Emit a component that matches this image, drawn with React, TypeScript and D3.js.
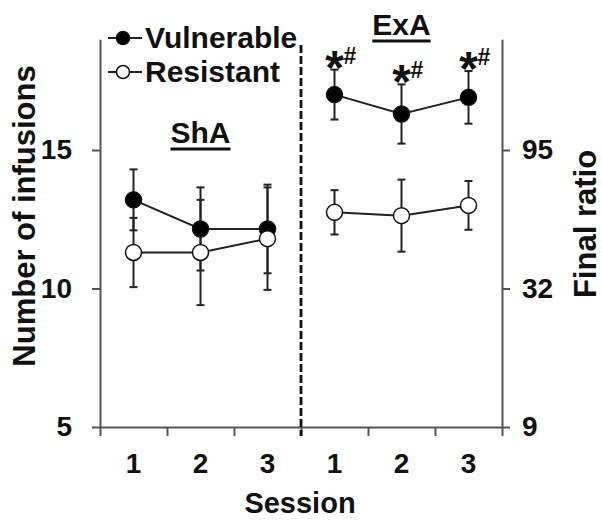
import React, { useEffect, useRef } from "react";
import * as d3 from "d3";

// sessions (x categories) and which phase each belongs to
const sessions = ["1", "2", "3", "1", "2", "3"];
const sessionPhase = ["ShA", "ShA", "ShA", "ExA", "ExA", "ExA"];
const phaseNames = ["ShA", "ExA"];

// number of infusions, mean and error
const vulnerableMean = [13.2, 12.15, 12.15, 17.0, 16.3, 16.9];
const vulnerableErr = [1.1, 1.5, 1.6, 0.9, 1.07, 0.95];
const resistantMean = [11.3, 11.3, 11.8, 12.75, 12.63, 13.0];
const resistantErr = [1.25, 1.9, 1.85, 0.8, 1.3, 0.88];

// significance marks above vulnerable points
const starMarks = ["", "", "", "*", "*", "*"];
const hashMarks = ["", "", "", "#", "#", "#"];

// axis ticks
const leftTicks = [5, 10, 15];
const rightTickLabels = ["9", "32", "95"];

const FONT = "'Liberation Sans', Arial, Helvetica, sans-serif";
const AXIS = "#555";
const INK = "#222";

export default function App() {
  const ref = useRef<SVGSVGElement>(null);

  useEffect(() => {
    const svg = d3.select(ref.current);
    svg.selectAll("*").remove();

    const x = d3.scaleBand<number>().domain(d3.range(sessions.length)).range([100, 502]);
    const xEdge = d3.scaleLinear().domain([0, sessions.length]).range([100, 502]);
    const y = d3.scaleLinear().domain([5, 19]).range([427, 39.2]);
    const cx = (i: number) => (x(i) as number) + x.bandwidth() / 2;

    const styleAxis = (g: any, size: number) => {
      g.attr("font-family", FONT).attr("font-size", size).attr("font-weight", "bold");
      g.select(".domain").attr("stroke", AXIS).attr("stroke-width", 2);
      g.selectAll(".tick line").attr("stroke", AXIS).attr("stroke-width", 2);
      g.selectAll(".tick text").attr("fill", "#111");
    };

    // x axis: ticks at session edges, labels at centres
    const gx = svg.append("g").attr("transform", "translate(0,427)")
      .call(d3.axisBottom(xEdge).tickValues(d3.range(sessions.length + 1))
        .tickSize(9).tickSizeOuter(0).tickFormat(() => ""));
    styleAxis(gx, 28);
    const gxl = svg.append("g").attr("transform", "translate(0,427)")
      .call(d3.axisBottom(x).tickSize(0).tickPadding(26).tickFormat((i) => sessions[i]));
    styleAxis(gxl, 28);
    gxl.select(".domain").remove();

    // left axis
    const gl = svg.append("g").attr("transform", "translate(100,0)")
      .call(d3.axisLeft(y).tickValues(leftTicks).tickSize(8).tickSizeOuter(0).tickPadding(20));
    styleAxis(gl, 28);

    // right axis
    const gr = svg.append("g").attr("transform", "translate(502,0)")
      .call(d3.axisRight(y).tickValues(leftTicks).tickSize(8).tickSizeOuter(0).tickPadding(12)
        .tickFormat((d, i) => rightTickLabels[i]));
    styleAxis(gr, 28);

    // dashed separator between phases
    svg.append("line")
      .attr("x1", xEdge(3)).attr("x2", xEdge(3))
      .attr("y1", 45).attr("y2", 436)
      .attr("stroke", "#111").attr("stroke-width", 2.8)
      .attr("stroke-dasharray", "8,3");

    const series = [
      { name: "Vulnerable", mean: vulnerableMean, err: vulnerableErr, fill: "#000" },
      { name: "Resistant", mean: resistantMean, err: resistantErr, fill: "#fff" },
    ];

    // error bars
    series.forEach((s) => {
      const g = svg.append("g").attr("stroke", INK).attr("stroke-width", 2);
      s.mean.forEach((m, i) => {
        const top = y(m + s.err[i]);
        const bot = y(m - s.err[i]);
        g.append("line").attr("x1", cx(i)).attr("x2", cx(i)).attr("y1", top).attr("y2", bot);
        g.append("line").attr("x1", cx(i) - 4).attr("x2", cx(i) + 4).attr("y1", top).attr("y2", top);
        g.append("line").attr("x1", cx(i) - 4).attr("x2", cx(i) + 4).attr("y1", bot).attr("y2", bot);
      });
    });

    // lines and markers, per phase
    const line = d3.line<number>().x((i) => cx(i));
    series.forEach((s) => {
      phaseNames.forEach((p) => {
        const idx = d3.range(sessions.length).filter((i) => sessionPhase[i] === p);
        svg.append("path")
          .attr("d", line.y((i) => y(s.mean[i]))(idx))
          .attr("fill", "none").attr("stroke", INK).attr("stroke-width", 2);
      });
      svg.append("g").selectAll("circle").data(d3.range(sessions.length)).join("circle")
        .attr("cx", (i) => cx(i)).attr("cy", (i) => y(s.mean[i])).attr("r", 8)
        .attr("fill", s.fill).attr("stroke", "#111").attr("stroke-width", 1.5);
    });

    // significance marks
    const sig = svg.append("g").attr("font-family", FONT).attr("font-weight", "bold").attr("fill", "#111");
    d3.range(sessions.length).forEach((i) => {
      if (!starMarks[i]) return;
      const top = y(vulnerableMean[i] + vulnerableErr[i]);
      sig.append("text").attr("x", cx(i)).attr("y", top + 14).attr("text-anchor", "middle")
        .attr("font-size", 48).text(starMarks[i]);
      sig.append("text").attr("x", cx(i) + 9).attr("y", top - 6)
        .attr("font-size", 23).text(hashMarks[i]);
    });

    // phase labels, underlined
    const phaseY = { ShA: 143, ExA: 35 } as Record<string, number>;
    phaseNames.forEach((p) => {
      const idx = d3.range(sessions.length).filter((i) => sessionPhase[i] === p);
      const px = d3.mean(idx, cx) as number;
      const t = svg.append("text").attr("x", px).attr("y", phaseY[p])
        .attr("text-anchor", "middle").attr("font-family", FONT).attr("font-weight", "bold")
        .attr("font-size", 30).attr("fill", "#111").text(p);
      const w = (t.node() as SVGTextElement).getComputedTextLength();
      svg.append("line").attr("x1", px - w / 2).attr("x2", px + w / 2)
        .attr("y1", phaseY[p] + 6).attr("y2", phaseY[p] + 6)
        .attr("stroke", "#111").attr("stroke-width", 3);
    });

    // legend
    const legend = svg.append("g").attr("font-family", FONT).attr("font-weight", "bold");
    series.forEach((s, k) => {
      const ly = 38 + k * 34;
      legend.append("line").attr("x1", 108).attr("x2", 142).attr("y1", ly).attr("y2", ly)
        .attr("stroke", INK).attr("stroke-width", 2);
      legend.append("circle").attr("cx", 123).attr("cy", ly).attr("r", 6.5)
        .attr("fill", s.fill).attr("stroke", "#111").attr("stroke-width", 1.5);
      legend.append("text").attr("x", 145).attr("y", ly + 10).attr("font-size", 30)
        .attr("fill", "#111").text(s.name);
    });

    // axis titles
    svg.append("text").attr("transform", `translate(35,216) rotate(-90)`)
      .attr("text-anchor", "middle").attr("font-family", FONT).attr("font-weight", "bold")
      .attr("font-size", 31).attr("fill", "#111").text("Number of infusions");
    svg.append("text").attr("transform", `translate(596,224) rotate(-90)`)
      .attr("text-anchor", "middle").attr("font-family", FONT).attr("font-weight", "bold")
      .attr("font-size", 31).attr("fill", "#111").text("Final ratio");
    svg.append("text").attr("x", 300).attr("y", 513)
      .attr("text-anchor", "middle").attr("font-family", FONT).attr("font-weight", "bold")
      .attr("font-size", 29).attr("fill", "#111").text("Session");
  }, []);

  return (
    <svg
      ref={ref}
      width={602}
      height={527}
      style={{ position: "absolute", left: 0, top: 0, background: "#fff" }}
    />
  );
}
